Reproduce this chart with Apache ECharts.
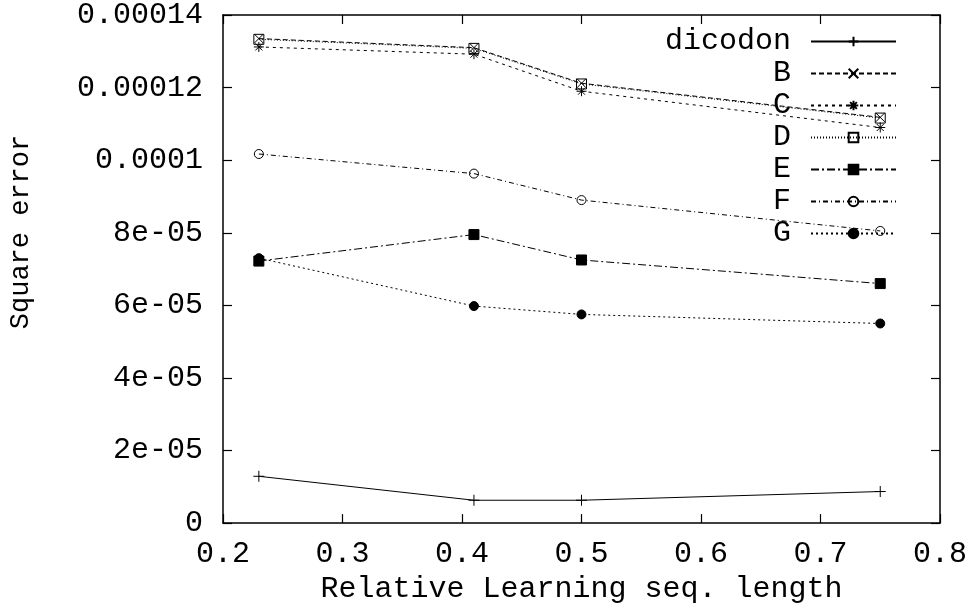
<!DOCTYPE html>
<html>
<head>
<meta charset="utf-8">
<script src="https://cdn.jsdelivr.net/npm/echarts@6/dist/echarts.min.js"></script>
<style>html,body{margin:0;padding:0;background:#fff}#c{width:970px;height:609px}</style>
</head>
<body>
<div id="c"></div>
<script>
var xValues = [0.23, 0.41, 0.5, 0.75];
var seriesNames = ['dicodon', 'B', 'C', 'D', 'E', 'F', 'G'];
var dicodon = [1.29e-5, 6.3e-6, 6.3e-6, 8.7e-6];
var B = [1.335e-4, 1.31e-4, 1.212e-4, 1.118e-4];
var C = [1.312e-4, 1.292e-4, 1.19e-4, 1.09e-4];
var D = [1.333e-4, 1.308e-4, 1.21e-4, 1.116e-4];
var E = [7.22e-5, 7.95e-5, 7.25e-5, 6.6e-5];
var F = [1.017e-4, 9.63e-5, 8.9e-5, 8.05e-5];
var G = [7.3e-5, 5.98e-5, 5.75e-5, 5.5e-5];
var yTickLabels = ['0', '2e-05', '4e-05', '6e-05', '8e-05', '0.0001', '0.00012', '0.00014'];
var xTickLabels = ['0.2', '0.3', '0.4', '0.5', '0.6', '0.7', '0.8'];

var FONT = '"Liberation Mono", "Courier New", monospace';
var plus = 'path://M0,5L10,5M5,0L5,10';
var cross = 'path://M0,0L10,10M10,0L0,10';
var star = 'path://M0,5L10,5M5,0L5,10M1.5,1.5L8.5,8.5M8.5,1.5L1.5,8.5';

var styles = {
  dicodon: {symbol: plus, fill: 'transparent', dash: 'solid', size: 11},
  B: {symbol: cross, fill: 'transparent', dash: [5, 3], size: 9},
  C: {symbol: star, fill: 'transparent', dash: [3, 4], size: 10},
  D: {symbol: 'rect', fill: 'transparent', dash: [1, 2], size: 10},
  E: {symbol: 'rect', fill: '#000', dash: [8, 3, 2, 3], size: 10},
  F: {symbol: 'circle', fill: 'transparent', dash: [5, 3, 1, 3], size: 9},
  G: {symbol: 'circle', fill: '#000', dash: [2, 3], size: 9}
};
var dataMap = {dicodon: dicodon, B: B, C: C, D: D, E: E, F: F, G: G};

function pairs(ys) { return xValues.map(function (x, i) { return [x, ys[i]]; }); }

var series = seriesNames.map(function (n) {
  var s = styles[n];
  return {
    name: n, type: 'line', data: pairs(dataMap[n]),
    symbol: s.symbol, symbolSize: s.size, showSymbol: true,
    lineStyle: {color: '#000', width: 1, type: s.dash},
    itemStyle: {color: s.fill, borderColor: '#000', borderWidth: 1},
    emphasis: {disabled: true}
  };
});

var axisCommon = {
  type: 'value',
  axisLine: {show: true, onZero: false, lineStyle: {color: '#000', width: 1.5}},
  axisTick: {show: true, inside: true, length: 9, lineStyle: {color: '#000', width: 1.2}},
  splitLine: {show: false}
};

var chart = echarts.init(document.getElementById('c'), null, {renderer: 'canvas'});
chart.setOption({
  animation: false,
  backgroundColor: '#fff',
  textStyle: {fontFamily: FONT},
  grid: {left: 223, right: 27, top: 15, bottom: 82, containLabel: false},
  xAxis: [
    Object.assign({}, axisCommon, {
      position: 'bottom', min: 0.2, max: 0.8, interval: 0.1,
      axisLabel: {margin: 16, color: '#000', fontFamily: FONT, fontSize: 30,
        formatter: function (v) { return xTickLabels[Math.round((v - 0.2) / 0.1)]; }},
      name: 'Relative Learning seq. length', nameLocation: 'middle', nameGap: 48,
      nameTextStyle: {color: '#000', fontFamily: FONT, fontSize: 30}
    }),
    Object.assign({}, axisCommon, {
      position: 'top', min: 0.2, max: 0.8, interval: 0.1, axisLabel: {show: false}
    })
  ],
  yAxis: [
    Object.assign({}, axisCommon, {
      position: 'left', min: 0, max: 0.00014, interval: 0.00002,
      axisLabel: {margin: 20, color: '#000', fontFamily: FONT, fontSize: 30,
        formatter: function (v) { return yTickLabels[Math.round(v / 0.00002)]; }}
    }),
    Object.assign({}, axisCommon, {
      position: 'right', min: 0, max: 0.00014, interval: 0.00002, axisLabel: {show: false}
    })
  ],
  legend: {
    orient: 'vertical', align: 'right', right: 68, top: 21,
    itemWidth: 85, itemHeight: 12, itemGap: 1,
    data: seriesNames,
    textStyle: {color: '#000', fontFamily: FONT, fontSize: 30, lineHeight: 31, padding: [0, 15, 0, 0]},
    selectedMode: false
  },
  graphic: [{
    type: 'text', x: 21, y: 232, rotation: Math.PI / 2,
    style: {text: 'Square error', fill: '#000', font: '27px ' + FONT, align: 'center', verticalAlign: 'middle'}
  }],
  series: series
});
</script>
</body>
</html>
